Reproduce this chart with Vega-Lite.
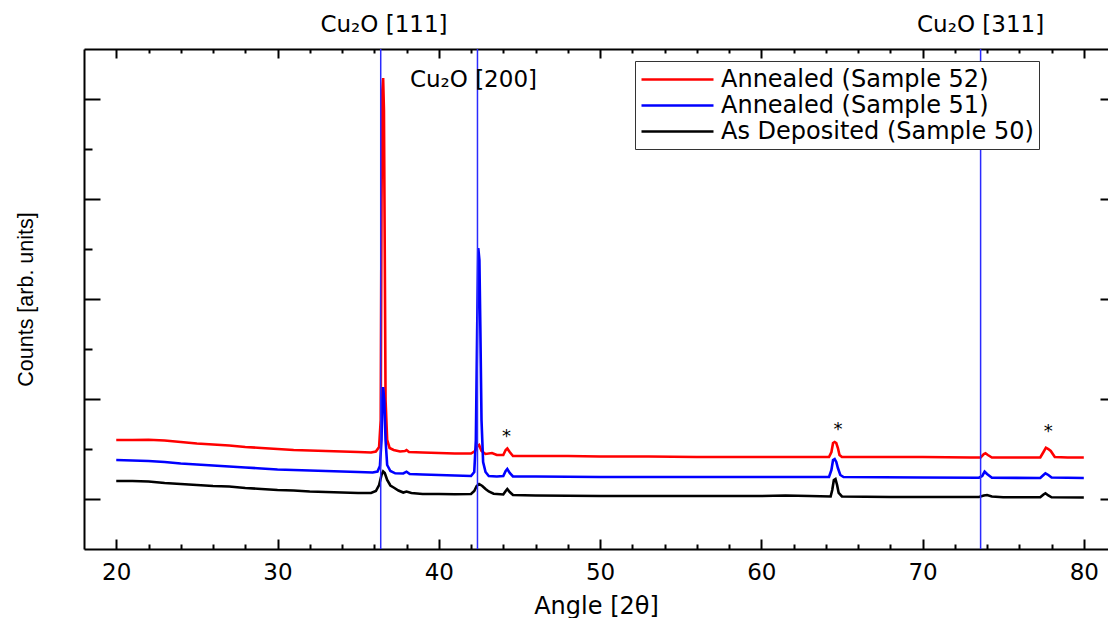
{
  "$schema": "https://vega.github.io/schema/vega-lite/v6.json",
  "width": 1024,
  "height": 500,
  "autosize": {"type": "none"},
  "padding": {"left": 84, "top": 49, "right": 0, "bottom": 69},
  "background": "white",
  "config": {
    "view": {"stroke": null},
    "axis": {"grid": false, "domainColor": "black", "domainWidth": 2, "tickColor": "black", "tickWidth": 2, "labelColor": "black", "titleColor": "black", "labelFont": "DejaVu Sans", "labelFontSize": 23, "titleFontWeight": "normal"},
    "legend": {"orient": "none", "legendX": 551, "legendY": 12, "symbolType": "M-1,0H5", "symbolSize": 576, "symbolStrokeWidth": 2.5, "labelFont": "DejaVu Sans", "labelFontSize": 24, "labelColor": "black", "labelOffset": 54, "rowPadding": 0, "padding": 5, "strokeColor": "#333333", "fillColor": "white", "labelLimit": 0}
  },
  "resolve": {"axis": {"x": "independent", "y": "independent"}},
  "layer": [
    {
      "data": {"values": [
        {"sample": "Annealed (Sample 52)", "angle": 20, "counts": 109},
        {"sample": "Annealed (Sample 52)", "angle": 21, "counts": 109},
        {"sample": "Annealed (Sample 52)", "angle": 22, "counts": 109.3},
        {"sample": "Annealed (Sample 52)", "angle": 23, "counts": 108.5},
        {"sample": "Annealed (Sample 52)", "angle": 24, "counts": 107},
        {"sample": "Annealed (Sample 52)", "angle": 25, "counts": 105.5},
        {"sample": "Annealed (Sample 52)", "angle": 26, "counts": 104.5},
        {"sample": "Annealed (Sample 52)", "angle": 27, "counts": 103.5},
        {"sample": "Annealed (Sample 52)", "angle": 28, "counts": 102},
        {"sample": "Annealed (Sample 52)", "angle": 29, "counts": 101},
        {"sample": "Annealed (Sample 52)", "angle": 30, "counts": 100},
        {"sample": "Annealed (Sample 52)", "angle": 31, "counts": 99},
        {"sample": "Annealed (Sample 52)", "angle": 32, "counts": 98.5},
        {"sample": "Annealed (Sample 52)", "angle": 33, "counts": 98},
        {"sample": "Annealed (Sample 52)", "angle": 34, "counts": 97.5},
        {"sample": "Annealed (Sample 52)", "angle": 35, "counts": 97},
        {"sample": "Annealed (Sample 52)", "angle": 35.8, "counts": 96.5},
        {"sample": "Annealed (Sample 52)", "angle": 36.1, "counts": 97.5},
        {"sample": "Annealed (Sample 52)", "angle": 36.3, "counts": 102},
        {"sample": "Annealed (Sample 52)", "angle": 36.4, "counts": 129},
        {"sample": "Annealed (Sample 52)", "angle": 36.45, "counts": 349},
        {"sample": "Annealed (Sample 52)", "angle": 36.5, "counts": 459},
        {"sample": "Annealed (Sample 52)", "angle": 36.55, "counts": 471},
        {"sample": "Annealed (Sample 52)", "angle": 36.6, "counts": 439},
        {"sample": "Annealed (Sample 52)", "angle": 36.65, "counts": 299},
        {"sample": "Annealed (Sample 52)", "angle": 36.7, "counts": 149},
        {"sample": "Annealed (Sample 52)", "angle": 36.8, "counts": 109},
        {"sample": "Annealed (Sample 52)", "angle": 36.95, "counts": 101},
        {"sample": "Annealed (Sample 52)", "angle": 37.2, "counts": 99},
        {"sample": "Annealed (Sample 52)", "angle": 37.6, "counts": 97.5},
        {"sample": "Annealed (Sample 52)", "angle": 37.9, "counts": 98},
        {"sample": "Annealed (Sample 52)", "angle": 38.0, "counts": 99},
        {"sample": "Annealed (Sample 52)", "angle": 38.15, "counts": 97},
        {"sample": "Annealed (Sample 52)", "angle": 39, "counts": 96.5},
        {"sample": "Annealed (Sample 52)", "angle": 40, "counts": 96},
        {"sample": "Annealed (Sample 52)", "angle": 41, "counts": 95.5},
        {"sample": "Annealed (Sample 52)", "angle": 42, "counts": 95.5},
        {"sample": "Annealed (Sample 52)", "angle": 42.25, "counts": 98},
        {"sample": "Annealed (Sample 52)", "angle": 42.4, "counts": 103},
        {"sample": "Annealed (Sample 52)", "angle": 42.5, "counts": 104},
        {"sample": "Annealed (Sample 52)", "angle": 42.65, "counts": 98},
        {"sample": "Annealed (Sample 52)", "angle": 42.9, "counts": 95},
        {"sample": "Annealed (Sample 52)", "angle": 43.3, "counts": 96},
        {"sample": "Annealed (Sample 52)", "angle": 43.6, "counts": 94},
        {"sample": "Annealed (Sample 52)", "angle": 44.0, "counts": 94},
        {"sample": "Annealed (Sample 52)", "angle": 44.15, "counts": 99},
        {"sample": "Annealed (Sample 52)", "angle": 44.25, "counts": 100.5},
        {"sample": "Annealed (Sample 52)", "angle": 44.4, "counts": 97},
        {"sample": "Annealed (Sample 52)", "angle": 44.6, "counts": 93},
        {"sample": "Annealed (Sample 52)", "angle": 46, "counts": 93},
        {"sample": "Annealed (Sample 52)", "angle": 48, "counts": 93},
        {"sample": "Annealed (Sample 52)", "angle": 50, "counts": 92.5},
        {"sample": "Annealed (Sample 52)", "angle": 53, "counts": 92.5},
        {"sample": "Annealed (Sample 52)", "angle": 56, "counts": 92},
        {"sample": "Annealed (Sample 52)", "angle": 60, "counts": 92},
        {"sample": "Annealed (Sample 52)", "angle": 63, "counts": 92},
        {"sample": "Annealed (Sample 52)", "angle": 64.2, "counts": 92},
        {"sample": "Annealed (Sample 52)", "angle": 64.35, "counts": 97},
        {"sample": "Annealed (Sample 52)", "angle": 64.45, "counts": 106},
        {"sample": "Annealed (Sample 52)", "angle": 64.55, "counts": 107},
        {"sample": "Annealed (Sample 52)", "angle": 64.65, "counts": 106},
        {"sample": "Annealed (Sample 52)", "angle": 64.75, "counts": 101},
        {"sample": "Annealed (Sample 52)", "angle": 64.85, "counts": 94},
        {"sample": "Annealed (Sample 52)", "angle": 65.0, "counts": 92},
        {"sample": "Annealed (Sample 52)", "angle": 67, "counts": 92},
        {"sample": "Annealed (Sample 52)", "angle": 70, "counts": 92},
        {"sample": "Annealed (Sample 52)", "angle": 73, "counts": 91.5},
        {"sample": "Annealed (Sample 52)", "angle": 73.6, "counts": 91.5},
        {"sample": "Annealed (Sample 52)", "angle": 73.8, "counts": 95},
        {"sample": "Annealed (Sample 52)", "angle": 73.9, "counts": 95.7},
        {"sample": "Annealed (Sample 52)", "angle": 74.05, "counts": 94},
        {"sample": "Annealed (Sample 52)", "angle": 74.3, "counts": 91.5},
        {"sample": "Annealed (Sample 52)", "angle": 76, "counts": 91.5},
        {"sample": "Annealed (Sample 52)", "angle": 77.3, "counts": 91.5},
        {"sample": "Annealed (Sample 52)", "angle": 77.5, "counts": 97},
        {"sample": "Annealed (Sample 52)", "angle": 77.65, "counts": 101.3},
        {"sample": "Annealed (Sample 52)", "angle": 77.8, "counts": 100},
        {"sample": "Annealed (Sample 52)", "angle": 77.95, "counts": 98},
        {"sample": "Annealed (Sample 52)", "angle": 78.2, "counts": 92},
        {"sample": "Annealed (Sample 52)", "angle": 79, "counts": 91.5},
        {"sample": "Annealed (Sample 52)", "angle": 80, "counts": 91.5},

        {"sample": "Annealed (Sample 51)", "angle": 20, "counts": 89},
        {"sample": "Annealed (Sample 51)", "angle": 21, "counts": 88.5},
        {"sample": "Annealed (Sample 51)", "angle": 22, "counts": 88},
        {"sample": "Annealed (Sample 51)", "angle": 23, "counts": 87},
        {"sample": "Annealed (Sample 51)", "angle": 24, "counts": 85.5},
        {"sample": "Annealed (Sample 51)", "angle": 25, "counts": 84.5},
        {"sample": "Annealed (Sample 51)", "angle": 26, "counts": 83.5},
        {"sample": "Annealed (Sample 51)", "angle": 27, "counts": 82.5},
        {"sample": "Annealed (Sample 51)", "angle": 28, "counts": 81.5},
        {"sample": "Annealed (Sample 51)", "angle": 29, "counts": 80.5},
        {"sample": "Annealed (Sample 51)", "angle": 30, "counts": 79.5},
        {"sample": "Annealed (Sample 51)", "angle": 31, "counts": 79},
        {"sample": "Annealed (Sample 51)", "angle": 32, "counts": 78.5},
        {"sample": "Annealed (Sample 51)", "angle": 33, "counts": 78},
        {"sample": "Annealed (Sample 51)", "angle": 34, "counts": 77.5},
        {"sample": "Annealed (Sample 51)", "angle": 35, "counts": 77},
        {"sample": "Annealed (Sample 51)", "angle": 35.9, "counts": 76.5},
        {"sample": "Annealed (Sample 51)", "angle": 36.2, "counts": 77.5},
        {"sample": "Annealed (Sample 51)", "angle": 36.35, "counts": 83},
        {"sample": "Annealed (Sample 51)", "angle": 36.45, "counts": 109},
        {"sample": "Annealed (Sample 51)", "angle": 36.5, "counts": 149},
        {"sample": "Annealed (Sample 51)", "angle": 36.55, "counts": 162},
        {"sample": "Annealed (Sample 51)", "angle": 36.62, "counts": 149},
        {"sample": "Annealed (Sample 51)", "angle": 36.7, "counts": 109},
        {"sample": "Annealed (Sample 51)", "angle": 36.8, "counts": 84},
        {"sample": "Annealed (Sample 51)", "angle": 37.0, "counts": 78},
        {"sample": "Annealed (Sample 51)", "angle": 37.3, "counts": 75.7},
        {"sample": "Annealed (Sample 51)", "angle": 37.8, "counts": 75.5},
        {"sample": "Annealed (Sample 51)", "angle": 38.0, "counts": 77.3},
        {"sample": "Annealed (Sample 51)", "angle": 38.2, "counts": 75},
        {"sample": "Annealed (Sample 51)", "angle": 39, "counts": 74.5},
        {"sample": "Annealed (Sample 51)", "angle": 40, "counts": 74},
        {"sample": "Annealed (Sample 51)", "angle": 41, "counts": 73.5},
        {"sample": "Annealed (Sample 51)", "angle": 42, "counts": 73},
        {"sample": "Annealed (Sample 51)", "angle": 42.2, "counts": 77},
        {"sample": "Annealed (Sample 51)", "angle": 42.3, "counts": 109},
        {"sample": "Annealed (Sample 51)", "angle": 42.38, "counts": 219},
        {"sample": "Annealed (Sample 51)", "angle": 42.45, "counts": 301},
        {"sample": "Annealed (Sample 51)", "angle": 42.52, "counts": 289},
        {"sample": "Annealed (Sample 51)", "angle": 42.58, "counts": 219},
        {"sample": "Annealed (Sample 51)", "angle": 42.65, "counts": 129},
        {"sample": "Annealed (Sample 51)", "angle": 42.75, "counts": 87},
        {"sample": "Annealed (Sample 51)", "angle": 42.9, "counts": 77},
        {"sample": "Annealed (Sample 51)", "angle": 43.1, "counts": 73},
        {"sample": "Annealed (Sample 51)", "angle": 43.6, "counts": 72.5},
        {"sample": "Annealed (Sample 51)", "angle": 44.0, "counts": 73},
        {"sample": "Annealed (Sample 51)", "angle": 44.15, "counts": 78},
        {"sample": "Annealed (Sample 51)", "angle": 44.25, "counts": 80},
        {"sample": "Annealed (Sample 51)", "angle": 44.4, "counts": 76},
        {"sample": "Annealed (Sample 51)", "angle": 44.6, "counts": 72.5},
        {"sample": "Annealed (Sample 51)", "angle": 46, "counts": 72.5},
        {"sample": "Annealed (Sample 51)", "angle": 50, "counts": 72},
        {"sample": "Annealed (Sample 51)", "angle": 55, "counts": 72},
        {"sample": "Annealed (Sample 51)", "angle": 60, "counts": 72},
        {"sample": "Annealed (Sample 51)", "angle": 63, "counts": 72},
        {"sample": "Annealed (Sample 51)", "angle": 64.2, "counts": 72},
        {"sample": "Annealed (Sample 51)", "angle": 64.35, "counts": 79},
        {"sample": "Annealed (Sample 51)", "angle": 64.45, "counts": 89},
        {"sample": "Annealed (Sample 51)", "angle": 64.55, "counts": 90},
        {"sample": "Annealed (Sample 51)", "angle": 64.65, "counts": 87},
        {"sample": "Annealed (Sample 51)", "angle": 64.75, "counts": 81},
        {"sample": "Annealed (Sample 51)", "angle": 64.9, "counts": 74},
        {"sample": "Annealed (Sample 51)", "angle": 65.1, "counts": 72},
        {"sample": "Annealed (Sample 51)", "angle": 70, "counts": 71.5},
        {"sample": "Annealed (Sample 51)", "angle": 73.5, "counts": 71.3},
        {"sample": "Annealed (Sample 51)", "angle": 73.7, "counts": 73},
        {"sample": "Annealed (Sample 51)", "angle": 73.85, "counts": 77.3},
        {"sample": "Annealed (Sample 51)", "angle": 74.0, "counts": 75},
        {"sample": "Annealed (Sample 51)", "angle": 74.3, "counts": 71.3},
        {"sample": "Annealed (Sample 51)", "angle": 77.3, "counts": 71},
        {"sample": "Annealed (Sample 51)", "angle": 77.5, "counts": 74},
        {"sample": "Annealed (Sample 51)", "angle": 77.62, "counts": 75.7},
        {"sample": "Annealed (Sample 51)", "angle": 77.8, "counts": 74},
        {"sample": "Annealed (Sample 51)", "angle": 78.0, "counts": 71.5},
        {"sample": "Annealed (Sample 51)", "angle": 80, "counts": 71},

        {"sample": "As Deposited (Sample 50)", "angle": 20, "counts": 68},
        {"sample": "As Deposited (Sample 50)", "angle": 21, "counts": 68},
        {"sample": "As Deposited (Sample 50)", "angle": 22, "counts": 67.5},
        {"sample": "As Deposited (Sample 50)", "angle": 23, "counts": 66},
        {"sample": "As Deposited (Sample 50)", "angle": 24, "counts": 65},
        {"sample": "As Deposited (Sample 50)", "angle": 25, "counts": 64},
        {"sample": "As Deposited (Sample 50)", "angle": 25.5, "counts": 63.5},
        {"sample": "As Deposited (Sample 50)", "angle": 26, "counts": 63},
        {"sample": "As Deposited (Sample 50)", "angle": 27, "counts": 62.5},
        {"sample": "As Deposited (Sample 50)", "angle": 28, "counts": 61},
        {"sample": "As Deposited (Sample 50)", "angle": 29, "counts": 60},
        {"sample": "As Deposited (Sample 50)", "angle": 30, "counts": 59},
        {"sample": "As Deposited (Sample 50)", "angle": 31, "counts": 58.5},
        {"sample": "As Deposited (Sample 50)", "angle": 32, "counts": 57.5},
        {"sample": "As Deposited (Sample 50)", "angle": 33, "counts": 57},
        {"sample": "As Deposited (Sample 50)", "angle": 34, "counts": 56.5},
        {"sample": "As Deposited (Sample 50)", "angle": 35, "counts": 56},
        {"sample": "As Deposited (Sample 50)", "angle": 35.8, "counts": 56},
        {"sample": "As Deposited (Sample 50)", "angle": 36.1, "counts": 58},
        {"sample": "As Deposited (Sample 50)", "angle": 36.3, "counts": 64},
        {"sample": "As Deposited (Sample 50)", "angle": 36.45, "counts": 74},
        {"sample": "As Deposited (Sample 50)", "angle": 36.55, "counts": 77.5},
        {"sample": "As Deposited (Sample 50)", "angle": 36.65, "counts": 76},
        {"sample": "As Deposited (Sample 50)", "angle": 36.8, "counts": 69},
        {"sample": "As Deposited (Sample 50)", "angle": 37.0, "counts": 63.5},
        {"sample": "As Deposited (Sample 50)", "angle": 37.2, "counts": 61.5},
        {"sample": "As Deposited (Sample 50)", "angle": 37.5, "counts": 58.5},
        {"sample": "As Deposited (Sample 50)", "angle": 37.8, "counts": 56.5},
        {"sample": "As Deposited (Sample 50)", "angle": 38.0, "counts": 57.5},
        {"sample": "As Deposited (Sample 50)", "angle": 38.3, "counts": 56},
        {"sample": "As Deposited (Sample 50)", "angle": 39, "counts": 55},
        {"sample": "As Deposited (Sample 50)", "angle": 40, "counts": 55},
        {"sample": "As Deposited (Sample 50)", "angle": 41, "counts": 54.7},
        {"sample": "As Deposited (Sample 50)", "angle": 42, "counts": 55},
        {"sample": "As Deposited (Sample 50)", "angle": 42.2, "counts": 58},
        {"sample": "As Deposited (Sample 50)", "angle": 42.35, "counts": 63},
        {"sample": "As Deposited (Sample 50)", "angle": 42.5, "counts": 65},
        {"sample": "As Deposited (Sample 50)", "angle": 42.7, "counts": 63},
        {"sample": "As Deposited (Sample 50)", "angle": 42.9, "counts": 60},
        {"sample": "As Deposited (Sample 50)", "angle": 43.1, "counts": 57.5},
        {"sample": "As Deposited (Sample 50)", "angle": 43.4, "counts": 55.3},
        {"sample": "As Deposited (Sample 50)", "angle": 44.0, "counts": 54.5},
        {"sample": "As Deposited (Sample 50)", "angle": 44.15, "counts": 58},
        {"sample": "As Deposited (Sample 50)", "angle": 44.25, "counts": 60},
        {"sample": "As Deposited (Sample 50)", "angle": 44.4, "counts": 57},
        {"sample": "As Deposited (Sample 50)", "angle": 44.6, "counts": 54},
        {"sample": "As Deposited (Sample 50)", "angle": 46, "counts": 53.5},
        {"sample": "As Deposited (Sample 50)", "angle": 50, "counts": 53},
        {"sample": "As Deposited (Sample 50)", "angle": 55, "counts": 53},
        {"sample": "As Deposited (Sample 50)", "angle": 60, "counts": 53},
        {"sample": "As Deposited (Sample 50)", "angle": 61.5, "counts": 53.5},
        {"sample": "As Deposited (Sample 50)", "angle": 63, "counts": 53},
        {"sample": "As Deposited (Sample 50)", "angle": 64.3, "counts": 52.5},
        {"sample": "As Deposited (Sample 50)", "angle": 64.4, "counts": 59},
        {"sample": "As Deposited (Sample 50)", "angle": 64.5, "counts": 69},
        {"sample": "As Deposited (Sample 50)", "angle": 64.6, "counts": 70},
        {"sample": "As Deposited (Sample 50)", "angle": 64.7, "counts": 64},
        {"sample": "As Deposited (Sample 50)", "angle": 64.8, "counts": 56},
        {"sample": "As Deposited (Sample 50)", "angle": 65.0, "counts": 52.5},
        {"sample": "As Deposited (Sample 50)", "angle": 68, "counts": 52},
        {"sample": "As Deposited (Sample 50)", "angle": 72, "counts": 52},
        {"sample": "As Deposited (Sample 50)", "angle": 73.5, "counts": 52},
        {"sample": "As Deposited (Sample 50)", "angle": 73.8, "counts": 53.5},
        {"sample": "As Deposited (Sample 50)", "angle": 74.0, "counts": 54},
        {"sample": "As Deposited (Sample 50)", "angle": 74.3, "counts": 52.5},
        {"sample": "As Deposited (Sample 50)", "angle": 75, "counts": 51.7},
        {"sample": "As Deposited (Sample 50)", "angle": 77.3, "counts": 51.7},
        {"sample": "As Deposited (Sample 50)", "angle": 77.5, "counts": 54.5},
        {"sample": "As Deposited (Sample 50)", "angle": 77.62, "counts": 55.7},
        {"sample": "As Deposited (Sample 50)", "angle": 77.8, "counts": 53.5},
        {"sample": "As Deposited (Sample 50)", "angle": 78.0, "counts": 51.7},
        {"sample": "As Deposited (Sample 50)", "angle": 80, "counts": 51.5}
      ]},
      "mark": {"type": "line", "strokeWidth": 2.6},
      "encoding": {
        "x": {"field": "angle", "type": "quantitative", "scale": {"domain": [18, 81.5], "nice": false, "zero": false},
              "axis": {"orient": "bottom", "values": [20, 30, 40, 50, 60, 70, 80], "tickSize": -10, "labelPadding": 22, "title": "Angle [2θ]", "titleFont": "DejaVu Sans", "titleFontSize": 24, "titlePadding": 10}},
        "y": {"field": "counts", "type": "quantitative", "scale": {"domain": [0, 500], "nice": false, "zero": false},
              "axis": {"orient": "left", "values": [50, 150, 250, 350, 450], "tickSize": -16, "labels": false, "title": "Counts [arb. units]", "titleFont": "Liberation Sans", "titleFontSize": 21.5, "titlePadding": 46}},
        "color": {"field": "sample", "type": "nominal", "sort": ["Annealed (Sample 52)", "Annealed (Sample 51)", "As Deposited (Sample 50)"],
                  "scale": {"domain": ["Annealed (Sample 52)", "Annealed (Sample 51)", "As Deposited (Sample 50)"], "range": ["#ff0000", "#0000ff", "#000000"]},
                  "legend": {"title": null}}
      }
    },
    {
      "data": {"values": [{"angle": 36.4}, {"angle": 42.4}, {"angle": 73.6}]},
      "mark": {"type": "rule", "color": "#2a2aff", "strokeWidth": 1.5},
      "encoding": {
        "x": {"field": "angle", "type": "quantitative", "axis": {"orient": "bottom", "values": [22, 24, 26, 28, 32, 34, 36, 38, 42, 44, 46, 48, 52, 54, 56, 58, 62, 64, 66, 68, 72, 74, 76, 78], "tickSize": -5, "labels": false, "domain": false, "title": null}},
        "y": {"datum": 0, "type": "quantitative", "axis": {"orient": "left", "values": [100, 200, 300, 400], "tickSize": -8, "labels": false, "domain": false, "title": null}},
        "y2": {"datum": 500}
      }
    },
    {
      "data": {"values": [
        {"label": "Cu₂O [111]", "angle": 36.6, "counts": 524},
        {"label": "Cu₂O [200]", "angle": 42.15, "counts": 469},
        {"label": "Cu₂O [311]", "angle": 73.6, "counts": 524}
      ]},
      "mark": {"type": "text", "font": "DejaVu Sans", "fontSize": 23, "color": "black", "align": "center", "baseline": "middle"},
      "encoding": {
        "x": {"field": "angle", "type": "quantitative", "axis": {"orient": "top", "values": [20, 30, 40, 50, 60, 70, 80], "tickSize": -9, "labels": false, "title": null}},
        "y": {"field": "counts", "type": "quantitative", "axis": {"orient": "right", "values": [50, 150, 250, 350, 450], "tickSize": -8, "labels": false, "domain": false, "title": null}},
        "text": {"field": "label"}
      }
    },
    {
      "data": {"values": [
        {"angle": 44.2, "counts": 112},
        {"angle": 64.75, "counts": 119},
        {"angle": 77.8, "counts": 117}
      ]},
      "mark": {"type": "text", "font": "DejaVu Sans", "fontSize": 18, "color": "black", "align": "center", "baseline": "middle", "text": "*"},
      "encoding": {
        "x": {"field": "angle", "type": "quantitative", "axis": {"orient": "top", "values": [22, 24, 26, 28, 32, 34, 36, 38, 42, 44, 46, 48, 52, 54, 56, 58, 62, 64, 66, 68, 72, 74, 76, 78], "tickSize": -4, "labels": false, "domain": false, "title": null}},
        "y": {"field": "counts", "type": "quantitative", "axis": null}
      }
    }
  ]
}
